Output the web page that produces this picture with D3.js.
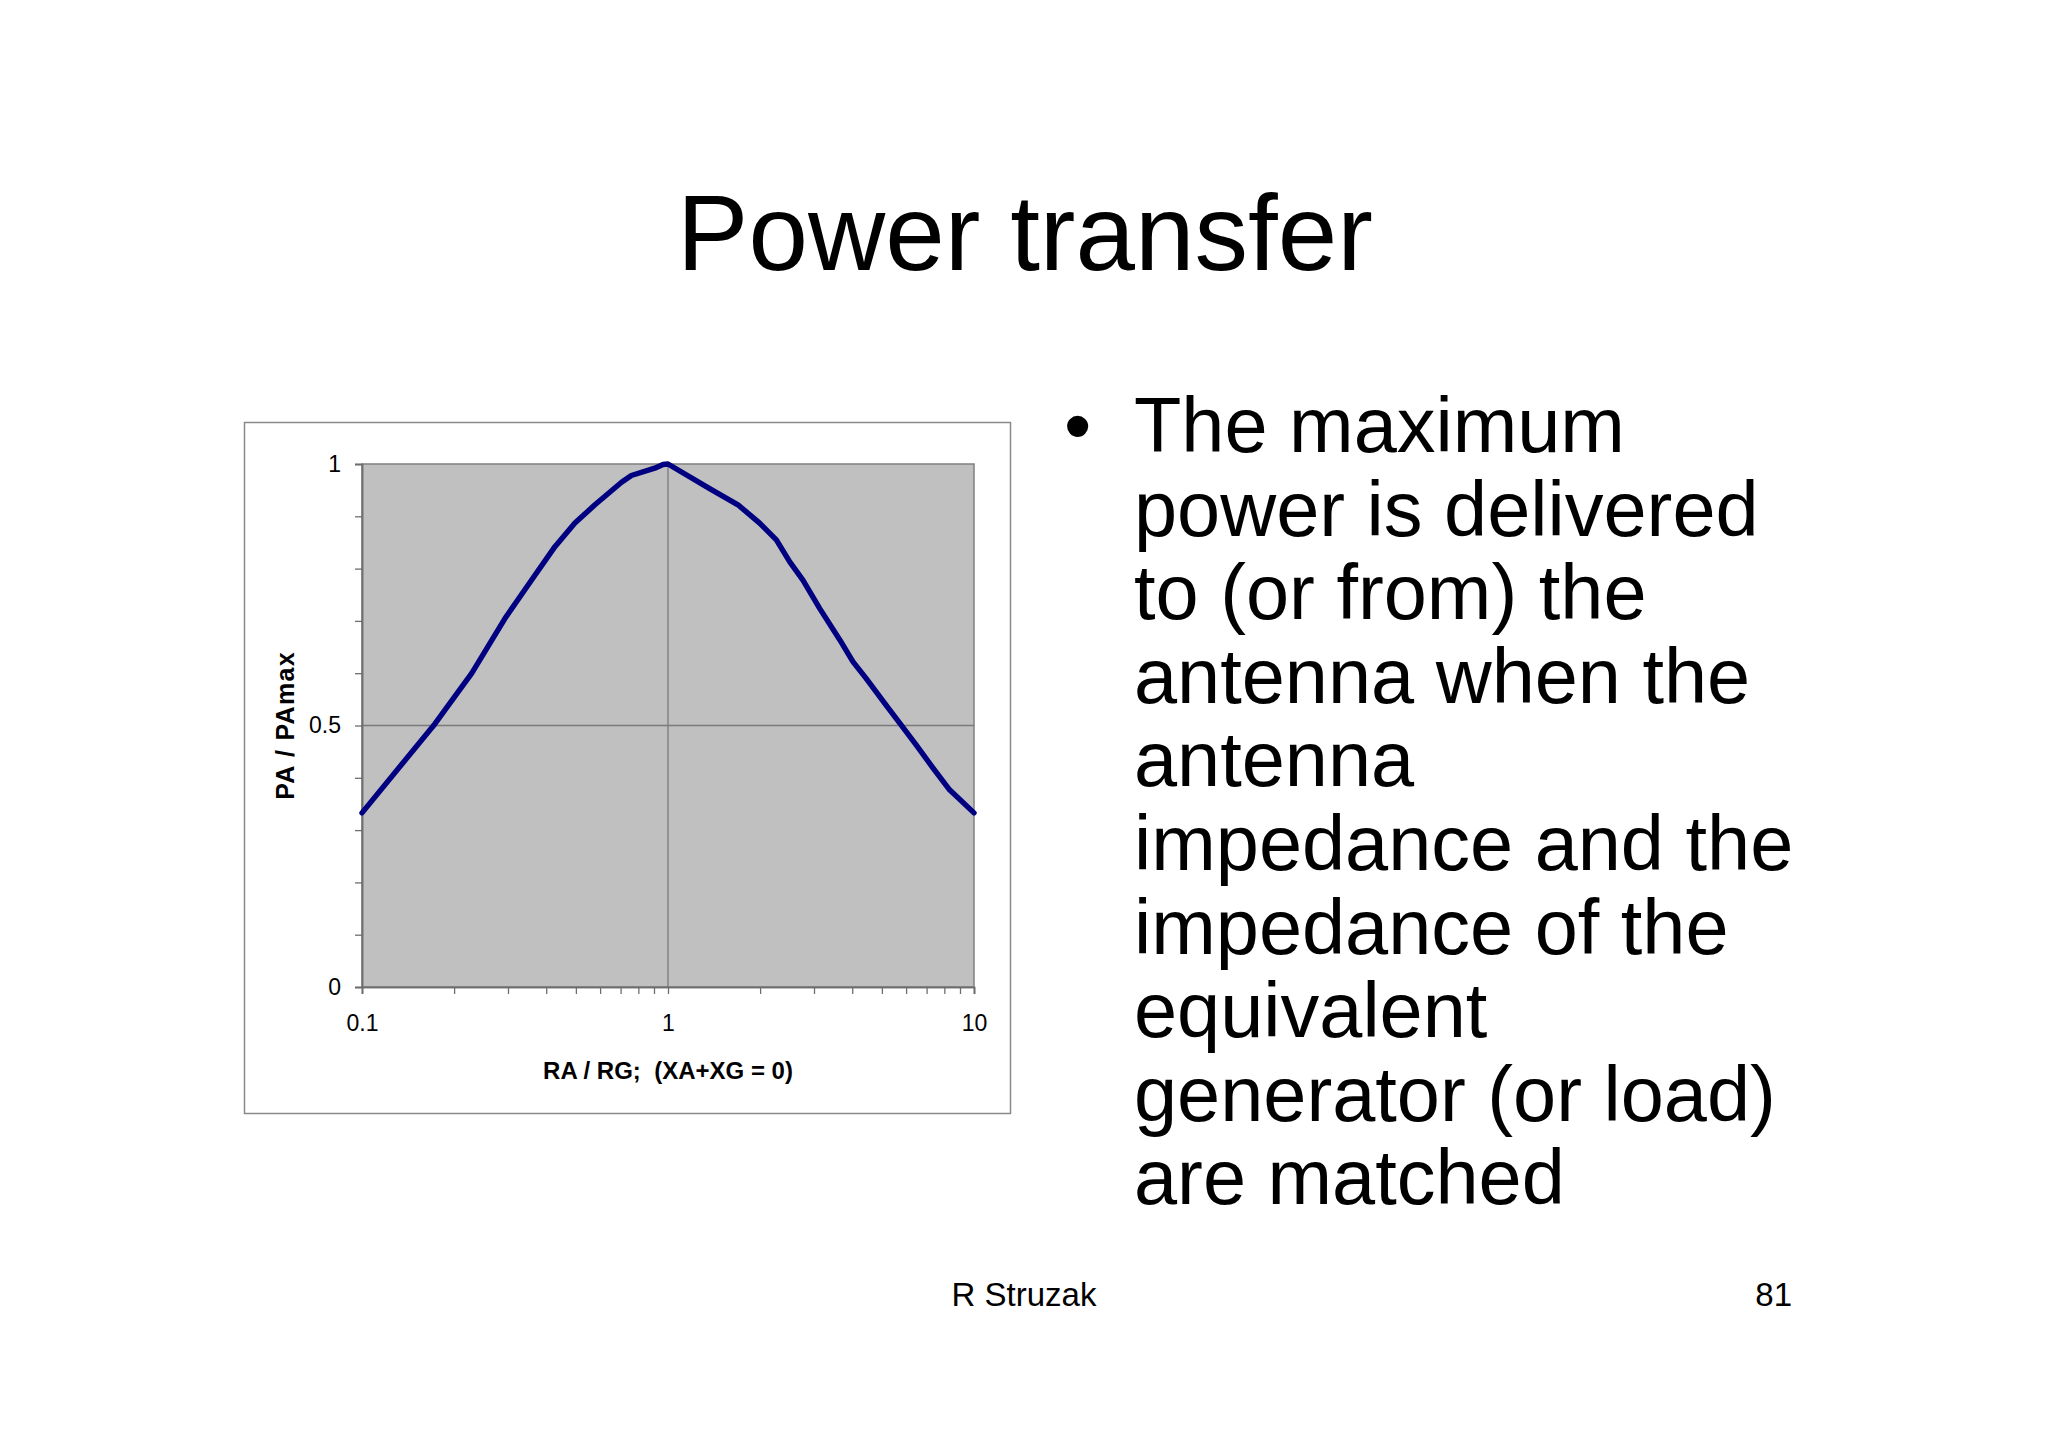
<!DOCTYPE html>
<html>
<head>
<meta charset="utf-8">
<script src="https://cdn.jsdelivr.net/npm/d3@7"></script>
<style>
  html, body { margin: 0; padding: 0; background: #ffffff; }
  svg { display: block; }
  text { font-family: "Liberation Sans", Arial, Helvetica, sans-serif; }
</style>
</head>
<body>
<script>
// ---- data ----
const ratioValues = [0.1, 0.173, 0.2285, 0.2934, 0.3495, 0.427, 0.4963, 0.577, 0.705, 0.759, 0.905, 0.963, 1.0,
                     1.368, 1.693, 1.993, 2.26, 2.5, 2.76, 3.13, 3.64, 4.02, 4.44, 5.16, 5.71, 6.47, 7.34, 8.32, 10];
const powerValues = [0.333, 0.503, 0.600, 0.705, 0.769, 0.842, 0.887, 0.922, 0.965, 0.978, 0.992, 0.999, 1.0,
                     0.953, 0.922, 0.887, 0.855, 0.813, 0.778, 0.724, 0.664, 0.622, 0.590, 0.539, 0.505, 0.463, 0.419, 0.377, 0.333];
const xMajorTicks = [0.1, 1, 10];
const xMinorTicks = [0.2, 0.3, 0.4, 0.5, 0.6, 0.7, 0.8, 0.9, 2, 3, 4, 5, 6, 7, 8, 9];
const yMajorTicks = [0, 0.5, 1];
const yMinorTicks = [0.1, 0.2, 0.3, 0.4, 0.6, 0.7, 0.8, 0.9];
const xTickLabels = ["0.1", "1", "10"];
const yTickLabels = ["0", "0.5", "1"];
const titleText = "Power transfer";
const xAxisTitle = "RA / RG;\u00a0\u00a0(XA+XG = 0)";
const yAxisTitle = "PA / PAmax";
const bodyLines = ["The maximum", "power is delivered", "to (or from) the", "antenna when the", "antenna",
                   "impedance and the", "impedance of the", "equivalent", "generator (or load)", "are matched"];
const footerAuthor = "R Struzak";
const footerPage = "81";

// ---- drawing ----
const W = 2048, H = 1447;
const svg = d3.select("body").append("svg").attr("width", W).attr("height", H);
svg.append("rect").attr("width", W).attr("height", H).attr("fill", "#ffffff");

// title
svg.append("text").attr("x", 1025).attr("y", 270).attr("text-anchor", "middle")
  .attr("font-size", 107).attr("fill", "#000").text(titleText);

// chart frame
svg.append("rect").attr("x", 244.5).attr("y", 422.5).attr("width", 766).attr("height", 691)
  .attr("fill", "#ffffff").attr("stroke", "#8a8a8a").attr("stroke-width", 1.5);

const x = d3.scaleLog().domain([0.1, 10]).range([362, 974]);
const y = d3.scaleLinear().domain([0, 1]).range([987, 464]);

// plot area
svg.append("rect").attr("x", x(0.1)).attr("y", y(1)).attr("width", x(10) - x(0.1)).attr("height", y(0) - y(1))
  .attr("fill", "#c0c0c0").attr("stroke", "#808080").attr("stroke-width", 1.5);

// gridlines
const grid = svg.append("g").attr("stroke", "#7a7a7a").attr("stroke-width", 1.3);
grid.selectAll("line.h").data([0.5]).join("line").attr("class", "h")
  .attr("x1", x(0.1)).attr("x2", x(10)).attr("y1", d => y(d)).attr("y2", d => y(d));
grid.selectAll("line.v").data([1]).join("line").attr("class", "v")
  .attr("x1", d => x(d)).attr("x2", d => x(d)).attr("y1", y(0)).attr("y2", y(1));

// y axis
const yAxis = d3.axisLeft(y).tickValues(yMajorTicks).tickSize(7).tickPadding(14)
  .tickFormat((d, i) => yTickLabels[i]);
const gy = svg.append("g").attr("transform", `translate(${x(0.1)},0)`).call(yAxis);
gy.selectAll(".tick text").attr("font-size", 23).attr("fill", "#000")
  .attr("font-family", '"Liberation Sans", Arial, sans-serif');
const gyMinor = svg.append("g").attr("transform", `translate(${x(0.1)},0)`)
  .call(d3.axisLeft(y).tickValues(yMinorTicks).tickSize(7).tickFormat(""));
[gy, gyMinor].forEach(g => {
  g.select(".domain").attr("stroke", "#6e6e6e").attr("stroke-width", 1.5);
  g.selectAll(".tick line").attr("stroke", "#6e6e6e").attr("stroke-width", 1.3);
});

// x axis
const xAxis = d3.axisBottom(x).tickValues(xMajorTicks).tickSize(7).tickPadding(21)
  .tickFormat((d, i) => xTickLabels[i]);
const gx = svg.append("g").attr("transform", `translate(0,${y(0)})`).call(xAxis);
gx.selectAll(".tick text").attr("font-size", 23).attr("fill", "#000")
  .attr("font-family", '"Liberation Sans", Arial, sans-serif');
const gxMinor = svg.append("g").attr("transform", `translate(0,${y(0)})`)
  .call(d3.axisBottom(x).tickValues(xMinorTicks).tickSize(7).tickFormat(""));
[gx, gxMinor].forEach(g => {
  g.select(".domain").attr("stroke", "#6e6e6e").attr("stroke-width", 1.5);
  g.selectAll(".tick line").attr("stroke", "#6e6e6e").attr("stroke-width", 1.3);
});

// curve
const pts = ratioValues.map((r, i) => [r, powerValues[i]]);
svg.append("path").datum(pts)
  .attr("fill", "none").attr("stroke", "#000080").attr("stroke-width", 5.4)
  .attr("stroke-linejoin", "round").attr("stroke-linecap", "round")
  .attr("d", d3.line().x(d => x(d[0])).y(d => y(d[1])));

// axis titles
svg.append("text").attr("x", (x(0.1) + x(10)) / 2).attr("y", 1079).attr("text-anchor", "middle")
  .attr("font-size", 24).attr("font-weight", "bold").attr("fill", "#000").text(xAxisTitle);
svg.append("text").attr("transform", `translate(294,${y(0.5)}) rotate(-90)`).attr("text-anchor", "middle")
  .attr("font-size", 25).attr("font-weight", "bold").attr("letter-spacing", 1.3).attr("fill", "#000").text(yAxisTitle);

// bullet text
svg.append("text").attr("x", 1064).attr("y", 452).attr("font-size", 78).attr("fill", "#000").text("\u2022");
svg.selectAll("text.body").data(bodyLines).join("text").attr("class", "body")
  .attr("x", 1134).attr("y", (d, i) => 452 + i * 83.6)
  .attr("font-size", 77.5).attr("fill", "#000").text(d => d);

// footer
svg.append("text").attr("x", 1024).attr("y", 1306).attr("text-anchor", "middle")
  .attr("font-size", 33).attr("fill", "#000").text(footerAuthor);
svg.append("text").attr("x", 1792).attr("y", 1306).attr("text-anchor", "end")
  .attr("font-size", 33).attr("fill", "#000").text(footerPage);
</script>
</body>
</html>
